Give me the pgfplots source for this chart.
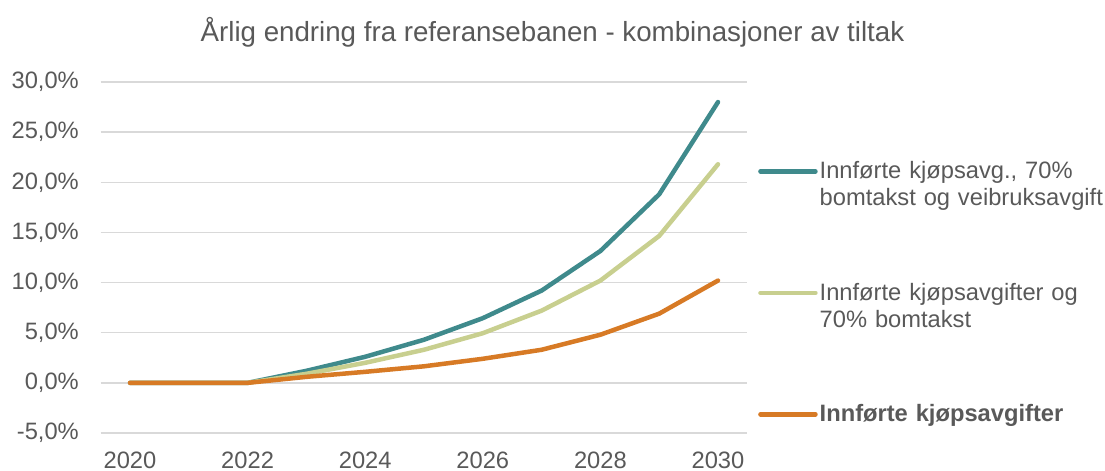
\documentclass[border=0pt]{standalone}
\usepackage{pgfplots}
\pgfplotsset{compat=1.18}
\usepackage{fontspec}
\setmainfont{Liberation Sans}
\definecolor{tealc}{HTML}{3F8A8C}
\definecolor{greenc}{HTML}{C8CF8F}
\definecolor{orangec}{HTML}{D77A25}
\definecolor{txt}{HTML}{595959}
\definecolor{gridc}{HTML}{D9D9D9}
\pgfplotstableread{
year teal green orange
2020 0 0 0
2021 0 0 0
2022 0 0 0
2023 1.2 0.9 0.6
2024 2.6 2.0 1.1
2025 4.3 3.3 1.65
2026 6.45 4.95 2.4
2027 9.2 7.2 3.3
2028 13.15 10.2 4.8
2029 18.8 14.65 6.9
2030 28.0 21.8 10.2
}\datatable
\begin{document}
\begin{tikzpicture}
\path[use as bounding box] (0,0) rectangle (1105bp,471bp);
\node[anchor=base, text=txt, inner sep=0pt, font=\fontsize{27.7bp}{33bp}\selectfont] at (552.5bp,429bp) {Årlig endring fra referansebanen - kombinasjoner av tiltak};
\begin{axis}[
  at={(100.6bp,38bp)}, anchor=south west,
  scale only axis, width=646.8bp, height=351bp,
  xmin=2019.5, xmax=2030.5, ymin=-5, ymax=30,
  xtick={2020,2022,...,2030}, xticklabels={2020,2022,2024,2026,2028,2030},
  ytick={-5,0,...,30},
  yticklabels={{-5,0\%},{0,0\%},{5,0\%},{10,0\%},{15,0\%},{20,0\%},{25,0\%},{30,0\%}},
  axis line style={draw=none}, major tick length=0pt,
  ymajorgrids, grid style={gridc, line width=1.5bp},
  tick label style={text=txt, inner sep=0pt, font=\fontsize{23.7bp}{28bp}\selectfont},
  yticklabel shift=21.6bp, xticklabel shift=18.5bp,
  legend cell align=left,
  legend style={draw=none, fill=none, inner sep=0pt, column sep=0bp, row sep=98bp,
    at={(1.0164,0.782)}, anchor=north west,
    font=\fontsize{23.7bp}{27bp}\selectfont, text=txt,
    cells={anchor=base west, align=left, text width=290bp, inner sep=0pt, text height=18bp}},
  legend image code/.code={\draw[#1, line width=4.5bp] (0bp,7.3bp) -- (55bp,7.3bp);},
  every axis plot/.append style={line width=4.5bp, line cap=round, line join=round, mark=none},
]
\addplot[tealc] table[x=year, y=teal] {\datatable};
\addlegendentry{Innførte kjøpsavg., 70\%\\bomtakst og veibruksavgift}
\addplot[greenc] table[x=year, y=green] {\datatable};
\addlegendentry{Innførte kjøpsavgifter og\\70\% bomtakst}
\addplot[orangec] table[x=year, y=orange] {\datatable};
\addlegendentry{\textbf{Innførte kjøpsavgifter}}
\end{axis}
\end{tikzpicture}
\end{document}
